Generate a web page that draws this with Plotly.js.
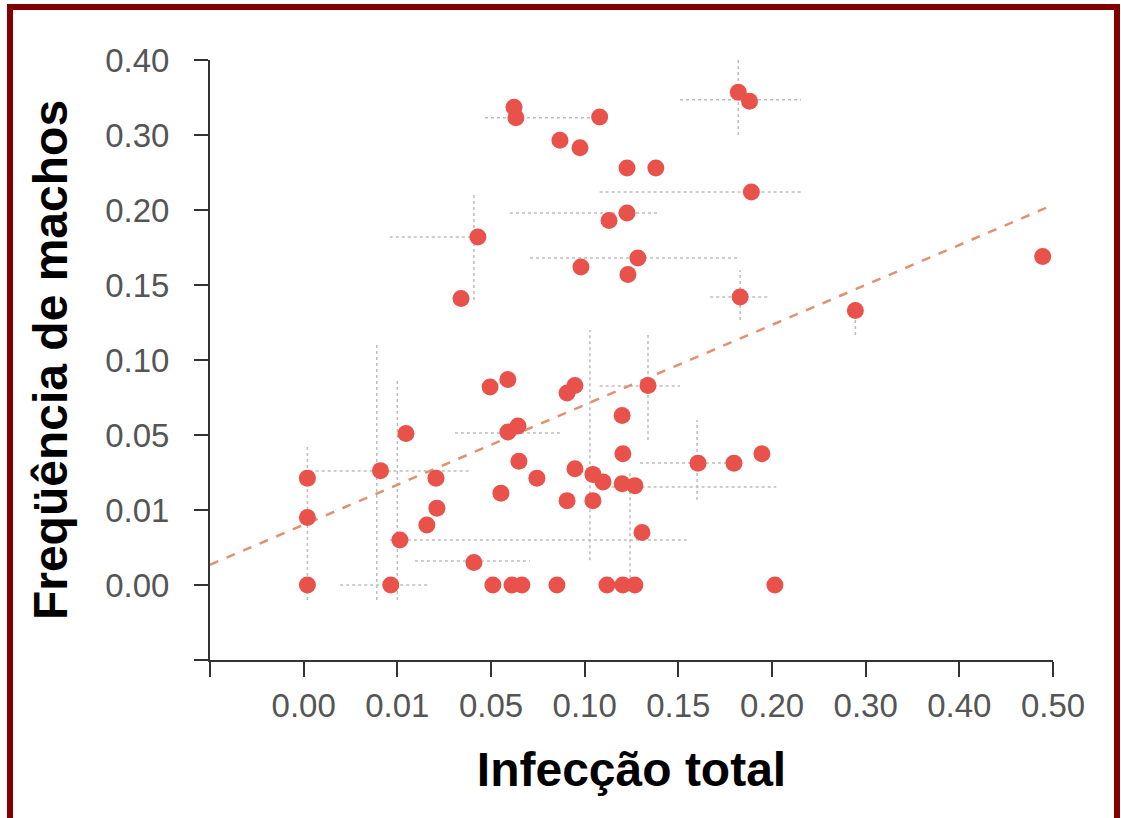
<!DOCTYPE html>
<html>
<head>
<meta charset="utf-8">
<script src="https://cdn.plot.ly/plotly-3.0.1.min.js"></script>
<style>
  html, body { margin: 0; padding: 0; background: #ffffff; overflow: hidden; }
  #chart { width: 1121px; height: 818px; position: absolute; left: 0; top: 0; }
  #frame { position: absolute; left: 7px; top: 4px; width: 1101px; height: 830px;
           border: 6px solid #820000; border-bottom: none; pointer-events: none; }
</style>
</head>
<body>
<div id="chart"></div>
<div id="frame"></div>
<script>
// Axis tick values (non-linear, equally spaced in the original chart)
const xTickValues = [0, 0.01, 0.05, 0.10, 0.15, 0.20, 0.30, 0.40, 0.50];
const xTickLabels = ['0.00', '0.01', '0.05', '0.10', '0.15', '0.20', '0.30', '0.40', '0.50'];
const yTickValues = [0, 0.01, 0.05, 0.10, 0.15, 0.20, 0.30, 0.40];
const yTickLabels = ['0.00', '0.01', '0.05', '0.10', '0.15', '0.20', '0.30', '0.40'];

// Data points: total infection (x) vs. frequency of males (y)
const infeccaoTotal = [0.0623, 0.0633, 0.0868, 0.0975, 0.108, 0.182, 0.188, 0.1226, 0.138, 0.189,
  0.1226, 0.113, 0.0444, 0.1284, 0.1231, 0.098, 0.0372, 0.183, 0.289, 0.489,
  0.0496, 0.059, 0.0906, 0.0948, 0.1338, 0.0137, 0.059, 0.0644, 0.12, 0.0649,
  0.0745, 0.0948, 0.0004, 0.0082, 0.0265, 0.0553, 0.0906, 0.1044, 0.1044, 0.1098,
  0.12, 0.1268, 0.1204, 0.1605, 0.1797, 0.1946, 0.0004, 0.0269, 0.0226, 0.0111,
  0.1306, 0.0427, 0.0004, 0.0093, 0.051, 0.0612, 0.0665, 0.0852, 0.1119, 0.1204,
  0.1268, 0.2031];
const freqMachos = [0.337, 0.323, 0.293, 0.283, 0.324, 0.357, 0.345, 0.256, 0.256, 0.224,
  0.198, 0.193, 0.182, 0.168, 0.157, 0.162, 0.141, 0.142, 0.133, 0.169,
  0.082, 0.087, 0.078, 0.083, 0.083, 0.051, 0.052, 0.056, 0.063, 0.036,
  0.027, 0.032, 0.027, 0.031, 0.027, 0.019, 0.015, 0.015, 0.029, 0.025,
  0.024, 0.023, 0.040, 0.035, 0.035, 0.040, 0.009, 0.011, 0.008, 0.006,
  0.007, 0.003, 0, 0, 0, 0, 0, 0, 0, 0,
  0, 0];

// Faint error bars: horizontal [y, xLow, xHigh] and vertical [x, yLow, yHigh]
const errHorizY  = [0.323, 0.347, 0.224, 0.182, 0.168, 0.198, 0.142, 0.0513, 0.0308, 0.0223, 0.006, 0.0032, 0, 0.0351, 0.0827];
const errHorizLo = [0.0474, 0.1509, 0.108, 0.0092, 0.0708, 0.0601, 0.167, 0.0346, 0.0, 0.108, 0.0092, 0.0175, 0.0039, 0.1295, 0.108];
const errHorizHi = [0.108, 0.231, 0.231, 0.0444, 0.183, 0.140, 0.199, 0.0868, 0.0412, 0.2046, 0.1562, 0.0708, 0.0239, 0.183, 0.1509];
const errVertX  = [0.182, 0.0427, 0.0004, 0.0078, 0.01, 0.1338, 0.289, 0.183, 0.1242, 0.16, 0.1028];
const errVertLo = [0.30, 0.14, -0.002, -0.002, -0.002, 0.0473, 0.1167, 0.1267, -0.0007, 0.0153, 0.0033];
const errVertHi = [0.40, 0.22, 0.0447, 0.11, 0.0867, 0.1167, 0.14, 0.16, 0.0313, 0.06, 0.12];

// Regression line end points
const fitX = [-0.01, 0.50];
const fitY = [0.0027, 0.2067];

// Map a value onto the equally spaced tick scale (piecewise linear)
function toPos(v, ticks) {
  const n = ticks.length;
  if (v <= ticks[1]) return (v - ticks[0]) / (ticks[1] - ticks[0]);
  if (v >= ticks[n - 1]) return (n - 1) + (v - ticks[n - 1]) / (ticks[n - 1] - ticks[n - 2]);
  for (let i = 0; i < n - 1; i++) {
    if (v >= ticks[i] && v <= ticks[i + 1]) {
      return i + (v - ticks[i]) / (ticks[i + 1] - ticks[i]);
    }
  }
  return NaN;
}
const px = v => toPos(v, xTickValues);
const py = v => toPos(v, yTickValues);

const ex = [], ey = [];
errHorizY.forEach((y, i) => { ex.push(px(errHorizLo[i]), px(errHorizHi[i]), null); ey.push(py(y), py(y), null); });
errVertX.forEach((x, i) => { ex.push(px(x), px(x), null); ey.push(py(errVertLo[i]), py(errVertHi[i]), null); });

const traces = [
  { type: 'scatter', mode: 'lines', x: ex, y: ey, hoverinfo: 'skip',
    line: { color: '#bdbdbd', width: 1.5, dash: 'dot' }, showlegend: false },
  { type: 'scatter', mode: 'lines', x: fitX.map(px), y: fitY.map(py),
    line: { color: '#e2906f', width: 2.5, dash: 'dash' }, showlegend: false },
  { type: 'scatter', mode: 'markers', x: infeccaoTotal.map(px), y: freqMachos.map(py),
    marker: { color: '#e8524a', size: 17, line: { width: 0 } }, showlegend: false }
];

const tickFont = { family: 'Liberation Sans, Arial, sans-serif', size: 33, color: '#555555' };
const titleFont = { family: 'Liberation Sans, Arial, sans-serif', size: 48, color: '#000000', weight: 'bold' };

const layout = {
  width: 1121, height: 818,
  margin: { l: 210, r: 68, t: 60, b: 158 },
  paper_bgcolor: '#ffffff', plot_bgcolor: '#ffffff',
  showlegend: false,
  xaxis: {
    range: [-1, 8],
    tickmode: 'array',
    tickvals: [-1].concat(xTickValues.map((v, i) => i)),
    ticktext: [''].concat(xTickLabels),
    ticks: 'outside', ticklen: 15, tickwidth: 2, tickcolor: '#333333',
    ticklabelstandoff: 0,
    showline: true, linecolor: '#333333', linewidth: 2,
    showgrid: false, zeroline: false,
    tickfont: tickFont,
    title: { text: '<b>Infecção total</b>', font: titleFont, standoff: 30 }
  },
  yaxis: {
    range: [-1, 7],
    tickmode: 'array',
    tickvals: [-1].concat(yTickValues.map((v, i) => i)),
    ticktext: [''].concat(yTickLabels),
    ticks: 'outside', ticklen: 14, tickwidth: 2, tickcolor: '#333333',
    ticklabelstandoff: 18,
    showline: true, linecolor: '#333333', linewidth: 2,
    showgrid: false, zeroline: false,
    tickfont: tickFont,
    title: { text: '<b>Freqüência de machos</b>', font: titleFont, standoff: 22 }
  }
};

Plotly.newPlot('chart', traces, layout, { displayModeBar: false, staticPlot: true });
</script>
</body>
</html>
